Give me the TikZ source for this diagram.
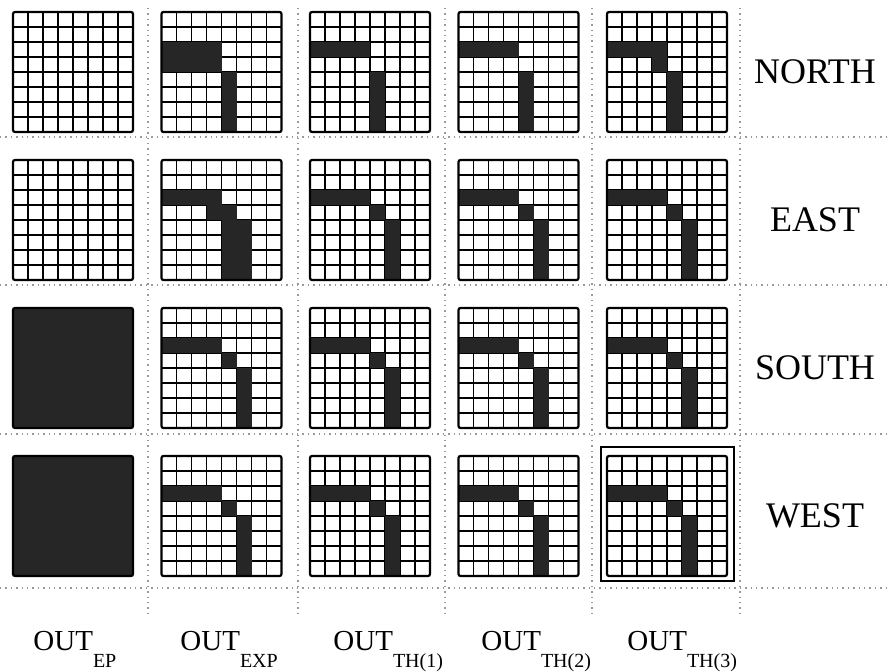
\documentclass[tikz,border=0pt]{standalone}
\usepackage{fontspec}
\setmainfont{Liberation Serif}
\usetikzlibrary{positioning}

\tikzset{
  gridline/.style={line width=0.8pt, black},
  cellfill/.style={fill=black!85},
  panelframe/.style={line width=1.1pt, black, rounded corners=1pt},
  outerframe/.style={line width=0.8pt, black},
  sepline/.style={black!40, line width=0.7pt, dotted},
  dirlabel/.style={font=\fontsize{18}{18}\selectfont, anchor=center},
  outlabel/.style={font=\fontsize{14.5}{14.5}\selectfont, anchor=base west, inner sep=0pt},
}

% one 8x8 panel: column, row, list of black blocks col/row/col/row (rows from top)
\newcommand{\cellpanel}[3]{%
  \begin{scope}[shift={(13+148.5*#1, 539-148*#2)}]
    \foreach \k in {1,...,7} {
      \draw[gridline] (\k*15,0) -- (\k*15,120);
      \draw[gridline] (0,\k*15) -- (120,\k*15);
    }
    \foreach \a/\b/\e/\f in {#3}
      \fill[cellfill] (\a*15,120-\b*15) rectangle (\e*15,120-\f*15);
    \draw[panelframe] (0,0) rectangle (120,120);
  \end{scope}}
\newcommand{\outsub}[1]{\raisebox{-8.5pt}{\fontsize{10}{10}\selectfont #1}}

\begin{document}
\begin{tikzpicture}[x=0.5pt, y=0.5pt]
  \useasboundingbox (0,0) rectangle (890,671);

  % Dotted separators
  \foreach \y in {534,386,237,83}
    \draw[sepline] (0,\y) -- (890,\y);
  \foreach \x in {148,298,445,592,740}
    \draw[sepline] (\x,663) -- (\x,56);

  % NORTH
  \cellpanel{0}{0}{0/0/0/0}
  \cellpanel{1}{0}{0/2/4/4, 4/4/5/8}
  \cellpanel{2}{0}{0/2/4/3, 4/4/5/8}
  \cellpanel{3}{0}{0/2/4/3, 4/4/5/8}
  \cellpanel{4}{0}{0/2/4/3, 3/3/4/4, 4/4/5/8}

  % EAST
  \cellpanel{0}{1}{0/0/0/0}
  \cellpanel{1}{1}{0/2/4/3, 3/3/5/4, 4/4/6/8}
  \foreach \col in {2,3,4} {
    \cellpanel{\col}{1}{0/2/4/3, 4/3/5/4, 5/4/6/8}
  }

  % SOUTH and WEST
  \foreach \row in {2,3} {
    \cellpanel{0}{\row}{0/0/8/8}
    \foreach \col in {1,2,3,4} {
      \cellpanel{\col}{\row}{0/2/4/3, 4/3/5/4, 5/4/6/8}
    }
  }

  % Selected output
  \begin{scope}[shift={(607,95)}]
    \draw[outerframe] (-6,-5) rectangle (127,129);
  \end{scope}

  % Direction labels
  \foreach \name/\y in {NORTH/599, EAST/451, SOUTH/303, WEST/155}
    \node[dirlabel] (lbl\name) at (815,\y) {\name};

  % Output labels
  \node[outlabel] (outEP)  at (33,21)  {OUT\outsub{EP}};
  \node[outlabel] (outEXP) at (180,21) {OUT\outsub{EXP}};
  \node[outlabel] (outTHa) at (333,21) {OUT\outsub{TH(1)}};
  \node[outlabel] (outTHb) at (481,21) {OUT\outsub{TH(2)}};
  \node[outlabel] (outTHc) at (627,21) {OUT\outsub{TH(3)}};
\end{tikzpicture}
\end{document}
